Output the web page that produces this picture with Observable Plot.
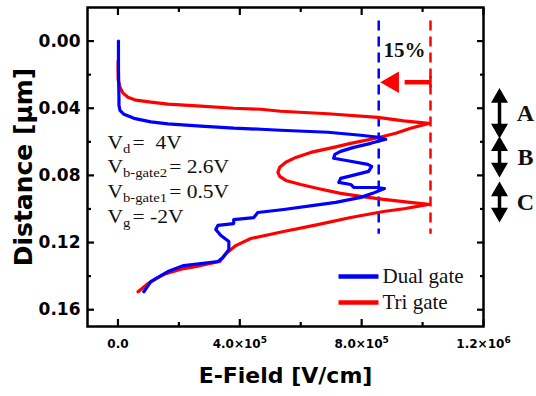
<!DOCTYPE html>
<html><head><meta charset="utf-8">
<script src="https://cdn.jsdelivr.net/npm/d3@7"></script>
<script src="https://cdn.jsdelivr.net/npm/@observablehq/plot@0.6"></script>
<style>body{margin:0;background:#fff}</style>
</head><body><div id="chart"></div>
<script>
// ---- data (E-field in V/cm, distance in µm) ----
const seriesNames = ["Dual gate", "Tri gate"];
const dualField = [1.6e3,1.6e3,3.3e3,3.3e3,6.6e3,1.97e4,5.25e4,1.08e5,1.64e5,2.72e5,3.80e5,4.69e5,5.34e5,6.89e5,7.97e5,8.56e5,8.79e5,8.30e5,7.74e5,7.31e5,7.12e5,7.08e5,7.64e5,8.20e5,8.33e5,8.23e5,7.71e5,7.31e5,7.25e5,7.64e5,7.74e5,8.49e5,8.75e5,8.36e5,7.97e5,7.15e5,6.43e5,5.44e5,4.59e5,4.46e5,3.80e5,3.80e5,3.28e5,3.21e5,3.38e5,3.64e5,3.64e5,3.44e5,3.28e5,2.16e5,1.64e5,1.41e5,1.08e5,8.5e4];
const dualDist = [0,0.0167,0.0346,0.0382,0.0412,0.0436,0.046,0.0481,0.0493,0.0507,0.0519,0.0525,0.0531,0.0543,0.0561,0.0573,0.0585,0.0609,0.0633,0.0657,0.0675,0.0698,0.0716,0.0734,0.0746,0.0776,0.08,0.0818,0.0842,0.0854,0.0872,0.0872,0.0878,0.0907,0.0931,0.0961,0.0979,0.1003,0.1021,0.1051,0.1063,0.1087,0.1098,0.1122,0.1158,0.1194,0.1242,0.129,0.1313,0.1337,0.1373,0.1397,0.1433,0.1493];
const triField = [500,500,6.6e3,1.64e4,3.28e4,5.9e4,1.08e5,1.64e5,2.72e5,3.80e5,4.69e5,5.34e5,6.89e5,8.53e5,9.38e5,1.02e6,9.61e5,9.12e5,8.46e5,7.64e5,7.08e5,6.33e5,5.84e5,5.51e5,5.31e5,5.25e5,5.31e5,5.51e5,6.0e5,6.56e5,7.31e5,7.97e5,8.72e5,9.44e5,1.02e6,9.44e5,8.72e5,7.64e5,6.56e5,5.44e5,4.36e5,3.87e5,3.54e5,3.34e5,2.72e5,2.16e5,1.57e5,1.31e5,9.8e4,6.6e4];
const triDist = [0.0119,0.0227,0.0275,0.031,0.0334,0.0352,0.0364,0.0376,0.0388,0.04,0.0406,0.0418,0.0433,0.0454,0.0475,0.049,0.0519,0.0549,0.0579,0.0609,0.0633,0.0663,0.0693,0.0722,0.0752,0.0782,0.0806,0.083,0.0854,0.0878,0.0907,0.0925,0.0943,0.0958,0.0973,0.0997,0.1015,0.1051,0.1093,0.1134,0.1176,0.1218,0.1266,0.1313,0.1337,0.1355,0.1385,0.1409,0.1445,0.1493];

const xMajorTicks = [0, 4e5, 8e5, 1.2e6];
const xMinorTicks = [2e5, 6e5, 1e6];
const xTickBase = ["0.0", "4.0×10", "8.0×10", "1.2×10"];
const xTickExp = ["", "5", "5", "6"];
const yMajorTicks = [0, 0.04, 0.08, 0.12, 0.16];
const yMinorTicks = [0.02, 0.06, 0.10, 0.14];
const yTickLabels = ["0.00", "0.04", "0.08", "0.12", "0.16"];
const xTitle = "E-Field [V/cm]";
const yTitle = "Distance [μm]";

const peakFields = [8.56e5, 1.026e6];   // dual-gate / tri-gate peak field (dashed lines)
const reductionLabel = "15%";
const regionLabels = ["A", "B", "C"];
const regionStart = [0.028, 0.0567, 0.0836];
const regionEnd = [0.058, 0.0812, 0.108];
const conditionMain = ["V", "V", "V", "V"];
const conditionSub = ["d", "b-gate2", "b-gate1", "g"];
const conditionRest = ["=  4V", "= 2.6V", "= 0.5V", "= -2V"];

// ---- build tables ----
const dual = dualField.map((e, i) => ({e, d: dualDist[i]}));
const tri = triField.map((e, i) => ({e, d: triDist[i]}));
const regions = regionLabels.map((label, i) => ({label, y1: regionStart[i], y2: regionEnd[i]}));
const supDigits = {"5": "⁵", "6": "⁶"};
const xTickText = xTickBase.map((b, i) => b + (xTickExp[i] ? supDigits[xTickExp[i]] : ""));
const conditionText = conditionMain.map((m, i) => m + conditionSub[i] + conditionRest[i]);

const serif = "'Liberation Serif','Times New Roman',serif";
const sans = "'DejaVu Sans',sans-serif";
const BLUE = "#0000ff", RED = "#ff0000";
const lineSymbol = {draw(ctx) { ctx.moveTo(-20, 0); ctx.lineTo(20, 0); }};
const xMax = 1.2e6;
const arrowY = 0.0245;

const marks = [
  // tick marks and labels
  Plot.axisX(xMajorTicks, {anchor: "bottom", tickSize: -7, tickPadding: 20, strokeWidth: 2.2,
    tickFormat: d => xTickText[xMajorTicks.indexOf(d)], fontSize: 12, fontWeight: "bold", fontFamily: sans, label: null}),
  Plot.axisX(xMinorTicks, {anchor: "bottom", tickSize: -4, tickFormat: () => "", strokeWidth: 2.2, label: null}),
  Plot.axisX(xMajorTicks, {anchor: "top", tickSize: -7, tickFormat: () => "", strokeWidth: 2.2, label: null}),
  Plot.axisX(xMinorTicks, {anchor: "top", tickSize: -4, tickFormat: () => "", strokeWidth: 2.2, label: null}),
  Plot.axisY(yMajorTicks, {anchor: "left", tickSize: -7, tickPadding: 14, strokeWidth: 2.2,
    tickFormat: d => yTickLabels[yMajorTicks.indexOf(d)], fontSize: 17, fontWeight: "bold", fontFamily: sans, label: null}),
  Plot.axisY(yMinorTicks, {anchor: "left", tickSize: -4, tickFormat: () => "", strokeWidth: 2.2, label: null}),
  Plot.axisY(yMajorTicks, {anchor: "right", tickSize: -7, tickFormat: () => "", strokeWidth: 2.2, label: null}),
  Plot.axisY(yMinorTicks, {anchor: "right", tickSize: -4, tickFormat: () => "", strokeWidth: 2.2, label: null}),
  // axis titles
  Plot.text([xTitle], {frameAnchor: "bottom", dy: 49, text: d => d, lineAnchor: "middle", textAnchor: "middle",
    fontSize: 22, fontWeight: "bold", fontFamily: sans}),
  Plot.text([yTitle], {frameAnchor: "left", dx: -64, rotate: -90, text: d => d, lineAnchor: "middle", textAnchor: "middle",
    fontSize: 25, fontWeight: "bold", fontFamily: sans}),
  // dashed peak lines
  Plot.ruleX([peakFields[0]], {x: d => d, y1: -0.012, y2: 0.115, stroke: BLUE, strokeWidth: 2.5, strokeDasharray: "10,6"}),
  Plot.ruleX([peakFields[1]], {x: d => d, y1: -0.012, y2: 0.115, stroke: RED, strokeWidth: 2.5, strokeDasharray: "10,6"}),
  // reduction arrow
  Plot.link([0], {x1: () => peakFields[1], x2: () => (peakFields[0] + peakFields[1]) / 2, y1: () => arrowY, y2: () => arrowY,
    stroke: RED, strokeWidth: 4.5, strokeLinecap: "butt"}),
  Plot.ruleX([peakFields[1]], {x: d => d, y1: arrowY - 0.0034, y2: arrowY + 0.0034, stroke: RED, strokeWidth: 2.5}),
  Plot.dot([peakFields[0]], {x: d => d, y: () => arrowY, dx: 14, symbol: "triangle", rotate: -90, r: 8, fill: RED, stroke: "none"}),
  Plot.text([reductionLabel], {x: () => (peakFields[0] + peakFields[1]) / 2, y: () => 0.0054, text: d => d,
    fontSize: 21, fontWeight: "bold", fontFamily: serif, fill: "#111"}),
  // data curves
  Plot.line(tri, {x: "e", y: "d", stroke: RED, strokeWidth: 3.2}),
  Plot.line(dual, {x: "e", y: "d", stroke: BLUE, strokeWidth: 3.2}),
  // region arrows (outside frame)
  Plot.link(regions, {x1: () => xMax, x2: () => xMax, y1: d => d.y1 + 0.004, y2: d => d.y2 - 0.004, dx: 16,
    stroke: "black", strokeWidth: 3.5, strokeLinecap: "butt"}),
  Plot.dot(regions, {x: () => xMax, y: "y1", dx: 16, dy: 9.8, symbol: "triangle", r: 6.3, fill: "black", stroke: "none"}),
  Plot.dot(regions, {x: () => xMax, y: "y2", dx: 16, dy: -9.8, symbol: "triangle", rotate: 180, r: 6.3, fill: "black", stroke: "none"}),
  Plot.text(regions, {x: () => xMax, y: d => (d.y1 + d.y2) / 2, text: "label", dx: 42, textAnchor: "middle", lineAnchor: "middle",
    fontSize: 24, fontWeight: "bold", fontFamily: serif, fill: "#111"}),
  // legend
  Plot.dot([seriesNames[0]], {frameAnchor: "bottom-right", dx: -125, dy: -50, symbol: lineSymbol, r: 5, stroke: BLUE, strokeWidth: 4.5, fill: "none"}),
  Plot.dot([seriesNames[1]], {frameAnchor: "bottom-right", dx: -125, dy: -24, symbol: lineSymbol, r: 5, stroke: RED, strokeWidth: 4.5, fill: "none"}),
  Plot.text([seriesNames[0]], {frameAnchor: "bottom-right", dx: -101, dy: -50, text: d => d, textAnchor: "start", lineAnchor: "middle",
    fontSize: 21, fontFamily: serif, fill: "#111"}),
  Plot.text([seriesNames[1]], {frameAnchor: "bottom-right", dx: -101, dy: -24, text: d => d, textAnchor: "start", lineAnchor: "middle",
    fontSize: 21, fontFamily: serif, fill: "#111"}),
  // bias conditions
  ...conditionText.map((s, i) => Plot.text([s], {frameAnchor: "top-left", dx: 20, dy: 135 + 24.7 * i,
    text: d => d, textAnchor: "start", lineAnchor: "middle", fontSize: 19, fontFamily: serif, fill: "#111"})),
  Plot.frame({stroke: "black", strokeWidth: 2.5})
];

const svg = Plot.plot({
  width: 536, height: 396,
  marginLeft: 87, marginRight: 53, marginTop: 7, marginBottom: 70,
  style: {background: "white", overflow: "visible"},
  x: {domain: [-1e5, 1.2e6]},
  y: {domain: [-0.02, 0.17], reverse: true},
  marks
});

// rich text: subscripts for the bias conditions, superscripts for the x tick labels
d3.select(svg).selectAll("text").each(function() {
  const t = d3.select(this);
  const s = this.textContent;
  const k = conditionText.indexOf(s);
  if (k >= 0) {
    t.text(null);
    t.append("tspan").text(conditionMain[k]);
    t.append("tspan").attr("font-size", 13).attr("dy", 4).text(conditionSub[k]);
    t.append("tspan").attr("dy", -4).attr("dx", 2).text(conditionRest[k].replace("  ", "\u00a0 "));
    t.attr("transform", (t.attr("transform") || "") + " scale(1.13,1)");
    return;
  }
  const j = xTickText.indexOf(s);
  if (j >= 0 && xTickExp[j]) {
    t.text(null);
    t.append("tspan").text(xTickBase[j]);
    t.append("tspan").attr("font-size", 9).attr("dy", -5).text(xTickExp[j]);
  }
});

document.getElementById("chart").appendChild(svg);
</script>
</body></html>
